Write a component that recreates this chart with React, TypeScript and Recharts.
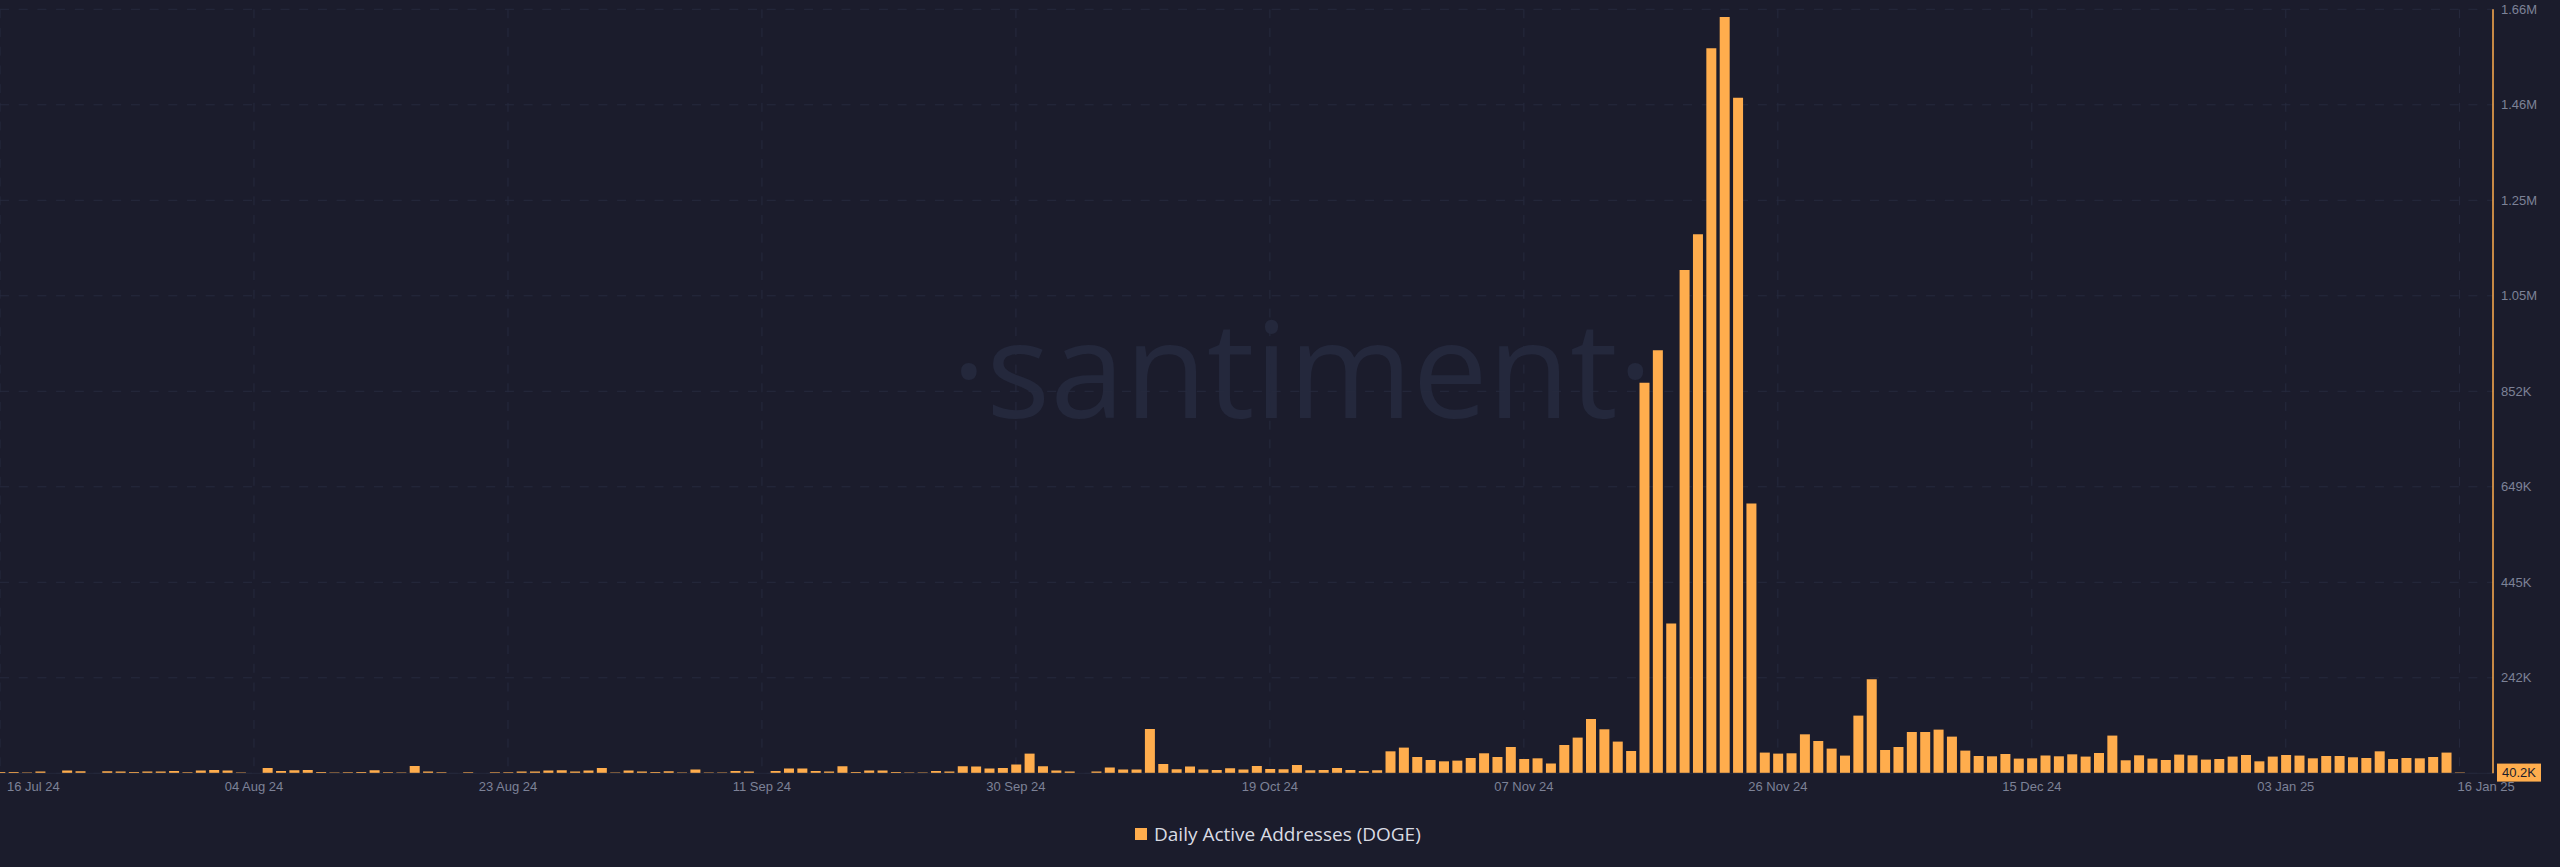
import React from "react";
import {
  ComposedChart,
  Bar,
  XAxis,
  YAxis,
  CartesianGrid,
  ReferenceLine,
} from "recharts";

// Daily Active Addresses (DOGE), in thousands, one value per day from 16 Jul 24 (day 0) to 16 Jan 25 (day 184)
const dailyActiveK: number[] = [
  41.5, 41.5, 40.2, 42.3, 39.0, 44.4, 43.0, 38.9, 43.0, 42.3,
  41.5, 42.3, 42.3, 43.6, 40.8, 44.4, 45.7, 44.4, 40.2, 38.9,
  50.0, 43.6, 45.1, 45.7, 41.5, 40.2, 40.8, 41.5, 45.1, 40.8,
  40.2, 54.2, 42.3, 40.8, 38.9, 40.8, 38.9, 40.8, 40.8, 42.3,
  42.3, 44.4, 45.1, 42.3, 44.4, 50.0, 40.2, 44.4, 42.3, 41.5,
  43.0, 40.2, 46.6, 40.2, 40.2, 43.6, 42.3, 38.9, 43.6, 48.7,
  48.7, 43.6, 42.3, 53.6, 41.5, 44.4, 44.4, 41.5, 40.2, 40.2,
  43.6, 42.3, 53.6, 53.0, 48.7, 50.0, 57.2, 80.6, 53.6, 44.4,
  42.3, 38.9, 42.3, 50.8, 46.6, 46.6, 133.0, 58.5, 47.2, 53.0,
  46.6, 45.7, 49.3, 46.6, 54.2, 47.9, 47.2, 56.4, 45.1, 45.7,
  50.0, 45.7, 43.6, 45.1, 85.5, 93.4, 73.4, 67.0, 64.2, 65.7,
  71.3, 81.3, 73.4, 94.7, 69.1, 70.6, 59.4, 99.0, 114.7, 154.3,
  132.4, 106.2, 86.2, 870.3, 939.3, 357.4, 1110.2, 1186.2, 1582.2, 1648.8,
  1477.0, 612.9, 82.8, 80.6, 81.3, 121.7, 107.5, 91.3, 76.4, 161.5,
  238.8, 88.3, 94.7, 126.6, 126.6, 131.7, 116.8, 87.0, 75.5, 74.9,
  79.8, 70.0, 70.6, 76.4, 74.9, 79.1, 74.3, 81.9, 119.0, 66.4,
  77.0, 70.0, 67.0, 78.5, 77.0, 67.9, 69.1, 74.3, 77.7, 64.2,
  74.3, 77.7, 76.4, 70.6, 75.5, 75.5, 72.8, 71.3, 85.5, 69.1,
  71.3, 70.6, 73.4, 82.8, 40.2,
];

const lastValueLabel = "40.2K";
const lastValue = 40200;

const xTickDays: number[] = [0, 19, 38, 57, 76, 95, 114, 133, 152, 171, 184];
const xTickLabels: string[] = [
  "16 Jul 24", "04 Aug 24", "23 Aug 24", "11 Sep 24", "30 Sep 24", "19 Oct 24",
  "07 Nov 24", "26 Nov 24", "15 Dec 24", "03 Jan 25", "16 Jan 25",
];

const yTickValues: number[] = [38700, 242000, 445300, 648600, 851900, 1055200, 1258500, 1461800, 1665100];
const yTickLabels: string[] = ["", "242K", "445K", "649K", "852K", "1.05M", "1.25M", "1.46M", "1.66M"];

const seriesName = "Daily Active Addresses (DOGE)";

const data = dailyActiveK.map((v, i) => ({ day: i, value: v * 1000 }));

const BG = "#1b1c2c";
const ORANGE = "#ffad4d";
const GRID = "#262a3e";
const TICK = "#7d8297";
const FONT = "'Liberation Sans', Arial, sans-serif";

const XTick = (props: any) => {
  const { x, y, payload } = props;
  const idx = xTickDays.indexOf(payload.value);
  const label = idx >= 0 ? xTickLabels[idx] : "";
  let anchor: "start" | "middle" | "end" = "middle";
  let tx = x;
  if (idx === 0) {
    anchor = "start";
    tx = x + 7;
  } else if (idx === xTickDays.length - 1) {
    anchor = "start";
    tx = x - 2;
  }
  return (
    <text x={tx} y={y} dy="0.71em" textAnchor={anchor} fill={TICK} fontSize={13} fontFamily={FONT}>
      {label}
    </text>
  );
};

const YTick = (props: any) => {
  const { x, y, payload } = props;
  const idx = yTickValues.indexOf(payload.value);
  const label = idx >= 0 ? yTickLabels[idx] : "";
  return (
    <text x={x} y={y} dy="0.355em" textAnchor="start" fill={TICK} fontSize={13} fontFamily={FONT}>
      {label}
    </text>
  );
};

const LastValueLabel = (props: any) => {
  const vb = props.viewBox || {};
  const right = (vb.x || 0) + (vb.width || 0);
  const y = vb.y || 0;
  return (
    <g>
      <rect x={right + 4} y={y - 9} width={44} height={18} fill={ORANGE} />
      <text x={right + 26} y={y} dy="0.355em" textAnchor="middle" fill="#1b1c2c" fontSize={13} fontFamily={FONT}>
        {lastValueLabel}
      </text>
    </g>
  );
};

export default function App() {
  return (
    <div style={{ position: "fixed", left: 0, top: 0, width: 2560, height: 867, background: BG, overflow: "hidden" }}>
      <div
        style={{
          position: "absolute",
          left: 0,
          top: 299,
          width: 2560,
          pointerEvents: "none",
        }}
      >
        <span
          style={{
            position: "absolute",
            left: 1302,
            transform: "translateX(-50%)",
            fontFamily: "'Open Sans', sans-serif",
            fontWeight: 400,
            fontSize: 134,
            lineHeight: "134px",
            color: "#24283c",
            whiteSpace: "nowrap",
          }}
        >
          ·santiment·
        </span>
      </div>
      <ComposedChart
        width={2560}
        height={867}
        data={data}
        margin={{ top: 9.3, right: 0, bottom: 63.7, left: 0 }}
        style={{ position: "absolute", left: 0, top: 0 }}
      >
        <CartesianGrid stroke={GRID} strokeDasharray="9 9.7" strokeWidth={1} />
        <XAxis
          dataKey="day"
          type="number"
          domain={[0, 186.5]}
          ticks={xTickDays}
          interval={0}
          height={30}
          tickLine={false}
          axisLine={{ stroke: "#23273a" }}
          tick={<XTick />}
          allowDataOverflow
        />
        <YAxis
          orientation="right"
          type="number"
          domain={[38700, 1665100]}
          ticks={yTickValues}
          interval={0}
          width={67}
          tickLine={false}
          axisLine={{ stroke: ORANGE, strokeWidth: 1.5 }}
          tick={<YTick />}
          allowDataOverflow
        />
        <Bar
          dataKey="value"
          name={seriesName}
          fill={ORANGE}
          barSize={10}
          isAnimationActive={false}
        />
        <ReferenceLine y={lastValue} stroke="none" label={<LastValueLabel />} />
      </ComposedChart>
      <div
        style={{
          position: "absolute",
          left: 1135,
          top: 821,
          display: "flex",
          alignItems: "center",
          height: 26,
          fontFamily: "'Open Sans', sans-serif",
          fontSize: 19,
          color: "#d9dbe3",
          whiteSpace: "nowrap",
        }}
      >
        <span style={{ display: "inline-block", width: 12, height: 12, background: ORANGE, marginRight: 7 }} />
        <span>{seriesName}</span>
      </div>
    </div>
  );
}
